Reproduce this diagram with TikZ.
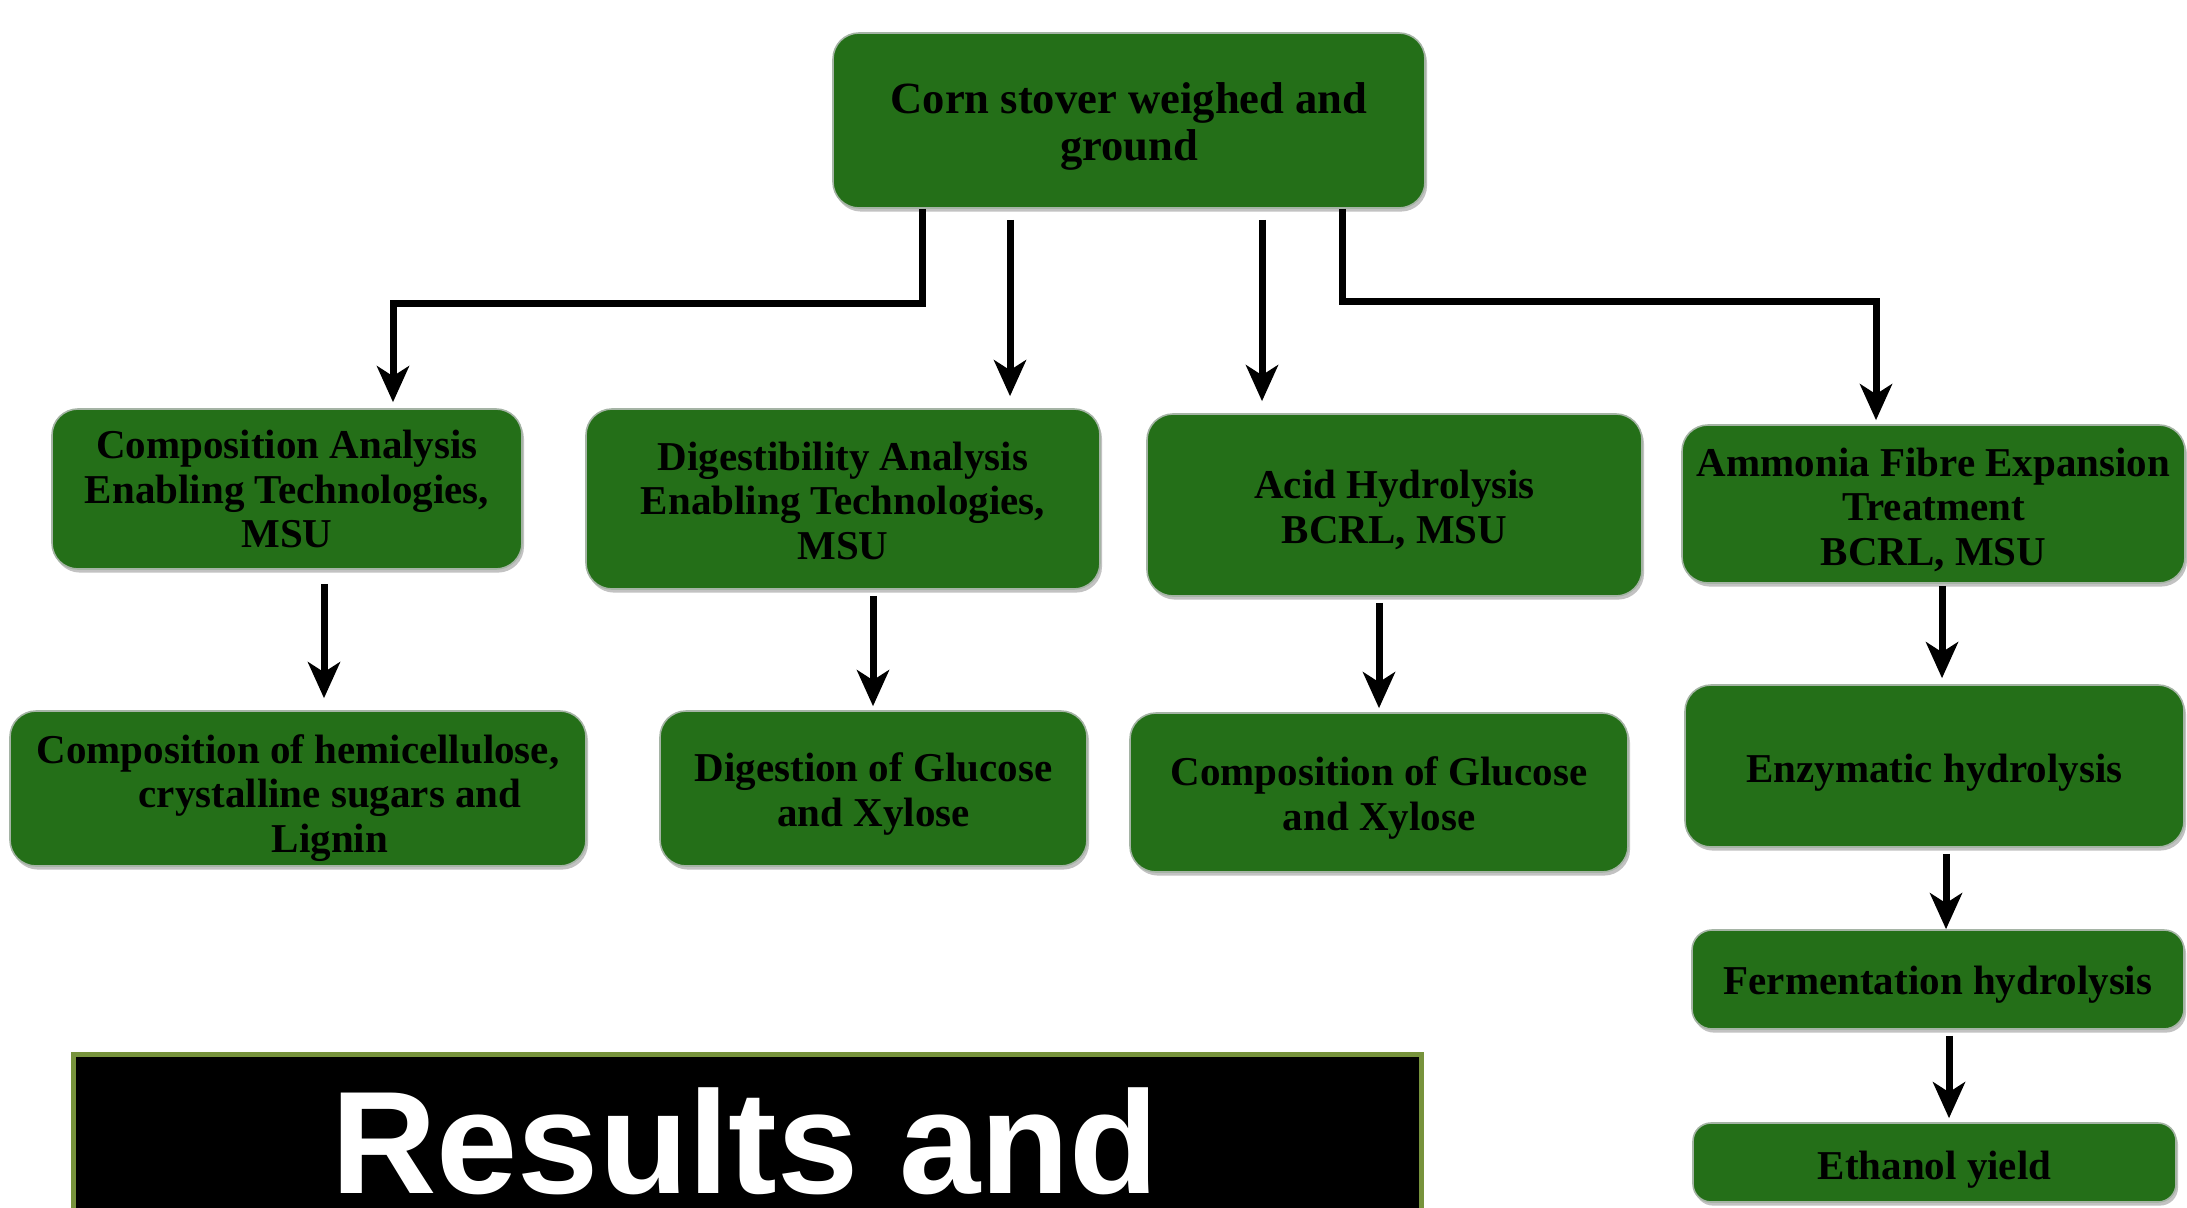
\documentclass[tikz,border=0pt]{standalone}
\usepackage{fontspec}
\setmainfont{Liberation Serif}
\newfontfamily\headfont{Liberation Sans}
\usetikzlibrary{arrows.meta,shadows}
\definecolor{boxgreen}{RGB}{36,111,24}
\definecolor{olivebd}{RGB}{119,147,60}
\definecolor{rimgray}{RGB}{165,180,165}
\begin{document}
\begin{tikzpicture}[x=0.5pt,y=-0.5pt,
  box/.style={draw=rimgray, line width=0.8pt, fill=boxgreen, rounded corners=13pt,
    inner sep=0pt,
    drop shadow={shadow xshift=1pt, shadow yshift=-1.8pt, fill=black!40, opacity=0.6}},
  lbl/.style={align=center, font=\bfseries\fontsize{20.5}{22.3}\selectfont, text=black, inner sep=0pt},
  conn/.style={line width=3.5pt, -{Stealth[length=18pt,width=16pt,inset=5pt]}},
  vconn/.style={conn, shorten <=3pt, shorten >=2pt},
]
\useasboundingbox (0,0) rectangle (2187,1208);

% boxes
\node[box, minimum width=296pt, minimum height=87.5pt] (top) at (1129,120.5) {};
\node[box, minimum width=235pt, minimum height=80pt] (A) at (287,489) {};
\node[box, minimum width=257pt, minimum height=90pt] (B) at (843,499) {};
\node[box, minimum width=247.5pt, minimum height=91pt] (C) at (1394.5,505) {};
\node[box, minimum width=251.5pt, minimum height=79pt] (D) at (1933.5,504) {};
\node[box, minimum width=288pt, minimum height=77.5pt] (A2) at (298,788.5) {};
\node[box, minimum width=213.5pt, minimum height=77.5pt] (B2) at (873.5,788.5) {};
\node[box, minimum width=249pt, minimum height=79.5pt] (C2) at (1379,792.5) {};
\node[box, minimum width=249.5pt, minimum height=81pt] (D2) at (1934.5,766) {};
\node[box, minimum width=246pt, minimum height=49.5pt, rounded corners=10pt] (D3) at (1938,979.5) {};
\node[box, minimum width=241.5pt, minimum height=39.5pt, rounded corners=9pt] (D4) at (1934.5,1162.5) {};

% box texts
\node[lbl, font=\bfseries\fontsize{22.3}{23.5}\selectfont] (topt) at ([yshift=-3.2pt]top.center)
  {Corn stover weighed and\\ground};
\node[lbl] (At) at (A.center) {Composition Analysis\\Enabling Technologies,\\MSU};
\node[lbl] (Bt) at ([yshift=-0.8pt]B.center) {Digestibility Analysis\\Enabling Technologies,\\MSU};
\node[lbl] (Ct) at ([yshift=-2.6pt]C.center) {Acid Hydrolysis\\BCRL, MSU};
\node[lbl] (Dt) at ([yshift=-2.8pt]D.center) {Ammonia Fibre Expansion\\Treatment\\BCRL, MSU};
\node[lbl] (A2t) at ([yshift=-4.6pt]A2.center)
  {Composition of hemicellulose,\\\hspace*{32pt}crystalline sugars and\\\hspace*{32pt}Lignin};
\node[lbl] (B2t) at ([yshift=-2.6pt]B2.center) {Digestion of Glucose\\and Xylose};
\node[lbl] (C2t) at ([yshift=-2.8pt]C2.center) {Composition of Glucose\\and Xylose};
\node[lbl] (D2t) at ([yshift=-3.4pt]D2.center) {Enzymatic hydrolysis};
\node[lbl] (D3t) at ([yshift=-2.8pt]D3.center) {Fermentation hydrolysis};
\node[lbl] (D4t) at ([yshift=-3.4pt]D4.center) {Ethanol yield};

% results banner
\node[draw=olivebd, line width=2.5pt, fill=black, anchor=north west, inner sep=0pt,
  minimum width=674pt, minimum height=110pt] (res) at (71,1052) {};
\node[text=white, anchor=base, inner sep=0pt, font=\headfont\bfseries\fontsize{73}{80}\selectfont]
  (restext) at (745,1193) {Results and};

% connector helper coordinates
\coordinate (ka) at (922,0);
\coordinate (ja) at (393,304);
\coordinate (sb) at (1010,220);
\coordinate (sc) at (1262,220);
\coordinate (kd) at (1342,0);
\coordinate (jd) at (1876,302);
\coordinate (xa) at (324,0);
\coordinate (xb) at (873,0);
\coordinate (xc) at (1379,0);
\coordinate (xd) at (1942,0);
\coordinate (xe) at (1946,0);
\coordinate (xf) at (1949,0);

% connectors from top
\draw[conn, shorten >=3pt] (top.south -| ka) |- (ja) -- (ja |- A.north);
\draw[conn, shorten >=6pt] (sb) -- (sb |- B.north);
\draw[conn, shorten >=6pt] (sc) -- (sc |- C.north);
\draw[conn, shorten >=2pt] (top.south -| kd) |- (jd) -- (jd |- D.north);

% vertical connectors
\draw[vconn, shorten <=7pt, shorten >=6pt] (A.south -| xa) -- (A2.north -| xa);
\draw[vconn] (B.south -| xb) -- (B2.north -| xb);
\draw[vconn] (C.south -| xc) -- (C2.north -| xc);
\draw[vconn, shorten <=1pt, shorten >=3pt] (D.south -| xd) -- (D2.north -| xd);
\draw[vconn, shorten >=0pt] (D2.south -| xe) -- (D3.north -| xe);
\draw[vconn] (D3.south -| xf) -- (D4.north -| xf);
\end{tikzpicture}
\end{document}
